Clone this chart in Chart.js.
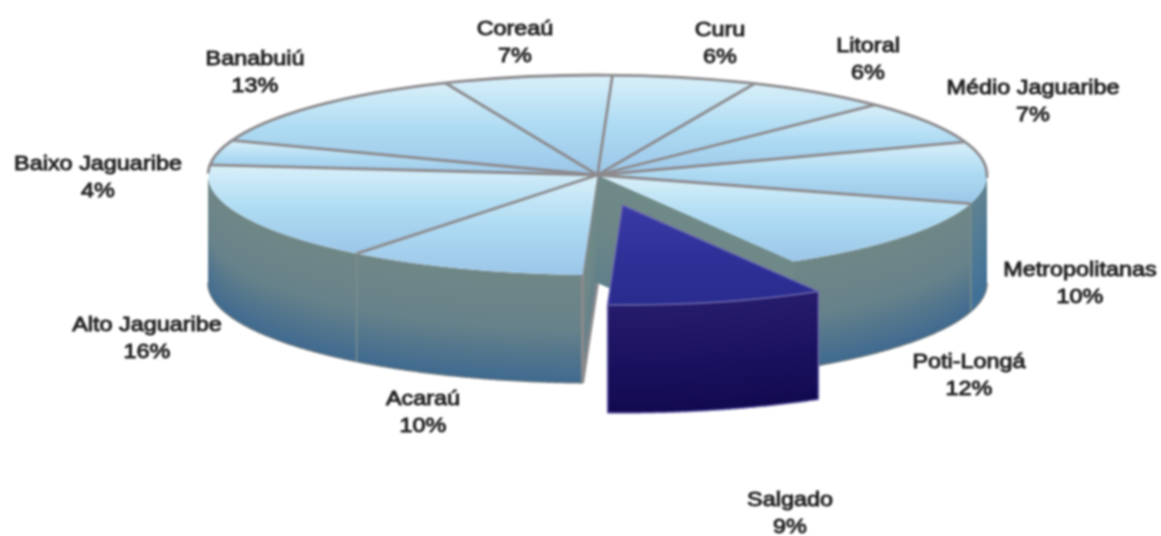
<!DOCTYPE html>
<html lang="pt">
<head>
<meta charset="utf-8">
<title>Regiões</title>
<script src="https://cdn.jsdelivr.net/npm/chart.js@4"></script>
<style>
  html, body { margin: 0; background: #fff; }
  canvas { display: block; filter: blur(0.8px); }
</style>
</head>
<body>
<canvas id="pie3d" width="1161" height="536"></canvas>
<script>
// clockwise, starting from the pulled-out slice
const regions = ['Salgado', 'Acaraú', 'Alto Jaguaribe', 'Baixo Jaguaribe', 'Banabuiú', 'Coreaú',
    'Curu', 'Litoral', 'Médio Jaguaribe', 'Metropolitanas', 'Poti-Longá'];
const shares = [9, 10, 16, 4, 13, 7, 6, 6, 7, 10, 12];
const pulledOut = 'Salgado';

// centre of each two-line label, same order as regions
const labelSpots = [[790, 514], [423, 413], [147, 339], [98, 178], [255, 73], [515, 43],
    [720, 44], [868, 60], [1033, 102], [1080, 284], [969, 376]];

const TILT = 0.2567;     // squash of the pie's top face
const DEPTH = 108;       // wall height
const PULL = { x: 25, y: 30 };   // on-screen shift of the pulled-out slice
const GREY = '#8c8a8d';
const LAVENDER = '#6f6cae';

const WALL_BLUE = ['#708787', '#67828a', '#3f6a90'];
const WALL_SIDE = ['#5f8290', '#4f7a96', '#3f6f98'];
const WALL_DARK = ['#261c6c', '#1b1260', '#120a50'];
const WALL_CUT = ['#708a88', '#6d8788', '#5f7f8a'];

const makeGradient = (ctx, top, bottom, colors) => {
    const g = ctx.createLinearGradient(0, top, 0, bottom);
    colors.forEach((c, i) => g.addColorStop(i / (colors.length - 1), c));
    return g;
};

// wall under a run of top-edge points, one pixel column at a time
// so the gradient follows the edge above it
const fillWall = (ctx, points, colors) => {
    ctx.fillStyle = makeGradient(ctx, 0, DEPTH, colors);
    for (let i = 1; i < points.length; i++) {
        const a = points[i - 1], b = points[i];
        const left = Math.min(a.x, b.x), right = Math.max(a.x, b.x);
        for (let x = Math.ceil(left - 0.5); x + 0.5 < right; x++) {
            const y = a.y + (b.y - a.y) * (x + 0.5 - a.x) / (b.x - a.x);
            ctx.save();
            ctx.translate(0, y);
            ctx.fillRect(x, 0, 1, DEPTH);
            ctx.restore();
        }
    }
};

const pieFacePlugin = {
    id: 'pieFace',
    afterDatasetsUpdate(chart) {
        // move the slice element itself, the arc's own offset also grows its radius
        const arc = chart.getDatasetMeta(0).data[regions.indexOf(pulledOut)];
        arc.x += PULL.x;
        arc.y += PULL.y / TILT;
    },
    beforeDatasetsDraw(chart) {
        const ctx = chart.ctx;
        const arcs = chart.getDatasetMeta(0).data;
        const gapIndex = regions.indexOf(pulledOut);
        const gap = arcs[gapIndex];
        const c = arcs[gapIndex + 1];
        const R = c.outerRadius;
        const rim = (a, shift) => ({
            x: c.x + Math.cos(a) * R + (shift ? PULL.x : 0),
            y: c.y + Math.sin(a) * R * TILT + (shift ? PULL.y : 0)
        });

        // every top face gets its own vertical gradient
        arcs.forEach((arc, i) => {
            const ys = [arc.y];
            for (let t = 0; t <= 12; t++) {
                ys.push(arc.y + Math.sin(arc.startAngle + (arc.endAngle - arc.startAngle) * t / 12) * R);
            }
            const colors = regions[i] === pulledOut
                ? ['#3b3aa6', '#2f3199', '#2a2b8e']
                : ['#d9f0f9', '#aedbf3', '#9cc6e8'];
            arc.options = { ...arc.options, backgroundColor: makeGradient(ctx, Math.min(...ys), Math.max(...ys), colors) };
        });

        // the part of an arc that faces the viewer, as sample points
        const frontPoints = (arc, shift) => {
            const turn = Math.PI * 2;
            let a0 = arc.startAngle, a1 = arc.endAngle;
            while (a0 >= turn) { a0 -= turn; a1 -= turn; }
            if (a1 > turn) { a0 = 0; a1 -= turn; }
            a1 = Math.min(a1, Math.PI);
            if (a1 <= a0) return [];
            const pts = [];
            const steps = Math.ceil((a1 - a0) / 0.006);
            for (let t = 0; t <= steps; t++) pts.push(rim(a0 + (a1 - a0) * t / steps, shift));
            return pts;
        };

        const strokeBottom = (pts, color) => {
            ctx.strokeStyle = color;
            ctx.lineWidth = 1.5;
            ctx.beginPath();
            pts.forEach((p, i) => (i ? ctx.lineTo(p.x, p.y + DEPTH) : ctx.moveTo(p.x, p.y + DEPTH)));
            ctx.stroke();
        };

        arcs.forEach((arc, i) => {
            if (i === gapIndex) return;
            const pts = frontPoints(arc, false);
            if (!pts.length) return;
            fillWall(ctx, pts, regions[i] === 'Metropolitanas' ? WALL_SIDE : WALL_BLUE);
            strokeBottom(pts, '#67767f');
        });

        // flat walls left by the gap
        [gap.startAngle, gap.endAngle].forEach(a => {
            const p = rim(a, false);
            fillWall(ctx, [{ x: c.x, y: c.y }, p], WALL_CUT);
        });

        // seams on the outer walls
        ctx.strokeStyle = '#7a8e8e';
        ctx.lineWidth = 1.5;
        arcs.forEach((arc, i) => {
            if (i === gapIndex) return;
            const p = rim(arc.startAngle, false);
            if (p.y <= c.y) return;
            ctx.beginPath();
            ctx.moveTo(p.x, p.y);
            ctx.lineTo(p.x, p.y + DEPTH);
            ctx.stroke();
        });

        // grey edge on the Acaraú side of the gap
        const acarau = rim(gap.endAngle, false);
        ctx.strokeStyle = GREY;
        ctx.lineWidth = 3;
        ctx.beginPath();
        ctx.moveTo(c.x, c.y);
        ctx.lineTo(acarau.x, acarau.y);
        ctx.lineTo(acarau.x, acarau.y + DEPTH);
        ctx.lineTo(c.x, c.y + DEPTH);
        ctx.stroke();

        // wall of the pulled-out slice
        const gapPts = frontPoints(gap, true);
        fillWall(ctx, gapPts, WALL_DARK);
        strokeBottom(gapPts, LAVENDER);
        ctx.strokeStyle = LAVENDER;
        ctx.lineWidth = 1.5;
        [gap.startAngle, gap.endAngle].forEach(a => {
            const p = rim(a, true);
            ctx.beginPath();
            ctx.moveTo(p.x, p.y);
            ctx.lineTo(p.x, p.y + DEPTH);
            ctx.stroke();
        });

        // the library draws the arcs as circles, squash them here
        ctx.save();
        ctx.translate(0, c.y);
        ctx.scale(1, TILT);
        ctx.translate(0, -c.y);
    },
    afterDatasetsDraw(chart) {
        const ctx = chart.ctx;
        ctx.restore();

        const arcs = chart.getDatasetMeta(0).data;
        const gapIndex = regions.indexOf(pulledOut);
        const gap = arcs[gapIndex];
        const c = arcs[gapIndex + 1];
        const R = c.outerRadius;

        // back half of the rim
        ctx.strokeStyle = GREY;
        ctx.lineWidth = 2.8;
        ctx.beginPath();
        ctx.ellipse(c.x, c.y, R, R * TILT, 0, Math.PI * 1.005, Math.PI * 2.01);
        ctx.stroke();

        // spokes, none along the two sides of the gap
        arcs.forEach((arc, i) => {
            if (i === gapIndex || i === gapIndex + 1) return;
            ctx.beginPath();
            ctx.moveTo(c.x, c.y);
            ctx.lineTo(c.x + Math.cos(arc.startAngle) * R, c.y + Math.sin(arc.startAngle) * R * TILT);
            ctx.stroke();
        });

        // edge of the pulled-out slice's top face
        const ox = c.x + PULL.x, oy = c.y + PULL.y;
        ctx.strokeStyle = LAVENDER;
        ctx.lineWidth = 1.5;
        ctx.beginPath();
        ctx.moveTo(ox, oy);
        ctx.ellipse(ox, oy, R, R * TILT, 0, gap.startAngle, gap.endAngle);
        ctx.closePath();
        ctx.stroke();
    },
    afterDraw(chart) {
        const ctx = chart.ctx;
        ctx.save();
        ctx.font = '20px "Liberation Sans", Arial, sans-serif';
        ctx.fillStyle = '#222';
        ctx.strokeStyle = '#222';
        ctx.lineWidth = 0.9;
        ctx.textAlign = 'center';
        ctx.textBaseline = 'middle';
        regions.forEach((name, i) => {
            const [x, y] = labelSpots[i];
            ctx.save();
            ctx.translate(x, y);
            ctx.scale(1.17, 1);   // the original lettering is stretched sideways
            [[name, -13.5], [shares[i] + '%', 13.5]].forEach(([text, dy]) => {
                ctx.fillText(text, 0, dy);
                ctx.strokeText(text, 0, dy);
            });
            ctx.restore();
        });
        ctx.restore();
    }
};

new Chart(document.getElementById('pie3d').getContext('2d'), {
    type: 'pie',
    data: {
        labels: regions,
        datasets: [{
            data: shares,
            clip: false,
            borderWidth: 0,
            backgroundColor: regions.map(name => (name === pulledOut ? '#2f3199' : '#aedbf3'))
        }]
    },
    options: {
        responsive: false,
        animation: false,
        rotation: 149.8,
        radius: 389.5,
        layout: { padding: { left: 34, bottom: 186 } },
        plugins: { legend: { display: false }, tooltip: { enabled: false } }
    },
    plugins: [pieFacePlugin]
});
</script>
</body>
</html>
